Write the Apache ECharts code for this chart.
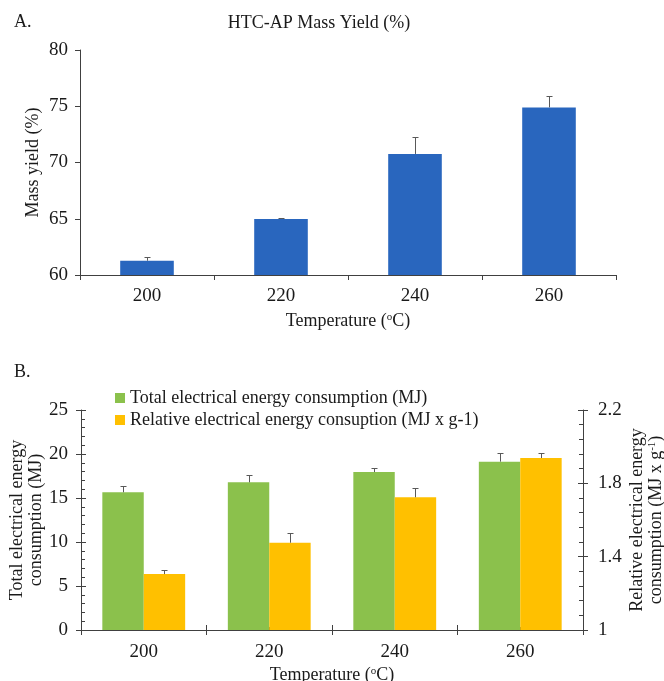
<!DOCTYPE html>
<html>
<head>
<meta charset="utf-8">
<script src="https://cdn.jsdelivr.net/npm/echarts@6/dist/echarts.min.js"></script>
<style>html,body{margin:0;padding:0;background:#fff}#c{width:664px;height:681px}</style>
</head>
<body>
<div id="c"></div>
<script>
const categories = ['200', '220', '240', '260'];
const massYield = [61.27, 64.98, 70.76, 74.9];
const massYieldErr = [0.33, 0.08, 1.48, 1.0];
const totalEnergy = [15.65, 16.78, 17.95, 19.13];
const totalEnergyErr = [0.75, 0.87, 0.49, 0.95];
const relEnergy = [1.305, 1.476, 1.724, 1.938];
const relEnergyErr = [0.02, 0.051, 0.05, 0.03];

const FONT = 'Liberation Serif';
const TXT = '#1a1a1a';
const AX = '#404040';
const sup = { fontSize: 11, verticalAlign: 'top', fontFamily: FONT, color: TXT, padding: [0, 0, 8, 0] };

function errRender(offsetFrac) {
  return function (params, api) {
    const i = api.value(0), v = api.value(1), e = api.value(2);
    const base = api.coord([i, v]);
    const top = api.coord([i, v + e]);
    const bw = api.size([1, 0])[0];
    const x = Math.round(base[0] + bw * offsetFrac) + 0.5;
    const yt = Math.round(top[1]) + 0.5;
    const style = { stroke: '#595959', lineWidth: 1 };
    return {
      type: 'group',
      children: [
        { type: 'line', shape: { x1: x, y1: base[1], x2: x, y2: yt }, style },
        { type: 'line', shape: { x1: x - 3, y1: yt, x2: x + 3, y2: yt }, style }
      ]
    };
  };
}

const labelStyle = { fontFamily: FONT, fontSize: 19, color: TXT };
const nameStyle = { fontFamily: FONT, fontSize: 18, color: TXT, lineHeight: 19, rich: { sup } };
const axisLine = { show: true, lineStyle: { color: AX, width: 1 } };

const chart = echarts.init(document.getElementById('c'));
chart.setOption({
  animation: false,
  backgroundColor: '#fff',
  textStyle: { fontFamily: FONT },
  graphic: [
    { type: 'text', left: 14, top: 13, style: { text: 'A.', font: '18px "Liberation Serif"', fill: TXT } },
    { type: 'text', left: 14, top: 363, style: { text: 'B.', font: '18px "Liberation Serif"', fill: TXT } },
    { type: 'text', x: 319, y: 23, style: { text: 'HTC-AP Mass Yield (%)', font: '18px "Liberation Serif"', fill: TXT, align: 'center', verticalAlign: 'middle' } }
  ],
  legend: {
    orient: 'vertical',
    left: 115,
    top: 389,
    padding: 0,
    itemWidth: 10,
    itemHeight: 10,
    itemGap: 4,
    icon: 'rect',
    textStyle: { fontFamily: FONT, fontSize: 18, color: TXT },
    data: ['Total electrical energy consumption (MJ)', 'Relative electrical energy consuption (MJ x g-1)']
  },
  grid: [
    { left: 80, top: 50, width: 536, height: 225, outerBoundsMode: 'none', containLabel: false },
    { left: 81, top: 410, width: 502, height: 220, outerBoundsMode: 'none', containLabel: false }
  ],
  xAxis: [
    {
      type: 'category', gridIndex: 0, position: 'bottom', data: categories,
      axisLine, axisTick: { show: true, length: 5, lineStyle: { color: AX } },
      axisLabel: Object.assign({ margin: 12 }, labelStyle),
      name: 'Temperature ({sup|o}C)', nameLocation: 'middle', nameGap: 37, nameMoveOverlap: false, nameTextStyle: nameStyle
    },
    {
      type: 'category', gridIndex: 1, position: 'bottom', data: categories,
      axisLine, axisTick: { show: true, length: 5, lineStyle: { color: AX } },
      axisLabel: Object.assign({ margin: 13 }, labelStyle),
      name: 'Temperature ({sup|o}C)', nameLocation: 'middle', nameGap: 36, nameMoveOverlap: false, nameTextStyle: nameStyle
    },
    {
      type: 'category', gridIndex: 1, position: 'bottom', data: categories,
      axisLine: { show: false }, axisLabel: { show: false },
      axisTick: { show: true, inside: true, length: 5, lineStyle: { color: AX } }
    },
    {
      type: 'category', gridIndex: 1, position: 'bottom', data: categories,
      axisLine: { show: false }, axisLabel: { show: false },
      axisTick: { show: true, inside: true, alignWithLabel: true, length: 3, lineStyle: { color: AX } }
    }
  ],
  yAxis: [
    {
      type: 'value', gridIndex: 0, position: 'left', min: 60, max: 80, interval: 5,
      axisLine, splitLine: { show: false },
      axisTick: { show: true, length: 5, lineStyle: { color: AX } },
      axisLabel: Object.assign({ margin: 12 }, labelStyle),
      name: 'Mass yield (%)', nameLocation: 'middle', nameRotate: 90, nameGap: 37, nameMoveOverlap: false, nameTextStyle: nameStyle
    },
    {
      type: 'value', gridIndex: 1, min: 0, max: 25, interval: 5, position: 'left',
      axisLine, splitLine: { show: false },
      axisTick: { show: true, inside: true, length: 5, lineStyle: { color: AX } },
      minorTick: { show: true, splitNumber: 5, length: 4, lineStyle: { color: AX } },
      axisLabel: Object.assign({ margin: 13 }, labelStyle),
      name: 'Total electrical energy\nconsumption (MJ)', nameLocation: 'middle', nameRotate: 90, nameGap: 35, nameMoveOverlap: false, nameTextStyle: nameStyle
    },
    {
      type: 'value', gridIndex: 1, min: 1, max: 2.2, interval: 0.4, position: 'right',
      axisLine, splitLine: { show: false },
      axisTick: { show: true, inside: true, length: 5, lineStyle: { color: AX } },
      minorTick: { show: true, splitNumber: 5, length: 4, lineStyle: { color: AX } },
      axisLabel: Object.assign({ margin: 15 }, labelStyle),
      name: 'Relative electrical energy\nconsumption (MJ x g{sup|-1})', nameLocation: 'middle', nameRotate: 90, nameGap: 45, nameMoveOverlap: false, nameTextStyle: nameStyle
    },
    {
      type: 'value', gridIndex: 1, min: 0, max: 25, interval: 5, position: 'left',
      axisLine: { show: false }, splitLine: { show: false }, axisLabel: { show: false },
      axisTick: { show: true, length: 5, lineStyle: { color: AX } }
    },
    {
      type: 'value', gridIndex: 1, min: 1, max: 2.2, interval: 0.4, position: 'right',
      axisLine: { show: false }, splitLine: { show: false }, axisLabel: { show: false },
      axisTick: { show: true, length: 5, lineStyle: { color: AX } }
    }
  ],
  series: [
    {
      type: 'bar', xAxisIndex: 0, yAxisIndex: 0, data: massYield,
      barWidth: '40%', itemStyle: { color: '#2966BE' }
    },
    {
      type: 'custom', xAxisIndex: 0, yAxisIndex: 0, z: 5,
      renderItem: errRender(0),
      encode: { x: 0, y: 1 },
      data: categories.map((c, i) => [i, massYield[i], massYieldErr[i]])
    },
    {
      name: 'Total electrical energy consumption (MJ)',
      type: 'bar', xAxisIndex: 1, yAxisIndex: 1, data: totalEnergy,
      barWidth: '33%', barGap: '0%', itemStyle: { color: '#8BC14C' }
    },
    {
      name: 'Relative electrical energy consuption (MJ x g-1)',
      type: 'bar', xAxisIndex: 1, yAxisIndex: 2, data: relEnergy,
      barWidth: '33%', barGap: '0%', itemStyle: { color: '#FFC000' }
    },
    {
      type: 'custom', xAxisIndex: 1, yAxisIndex: 1, z: 5,
      renderItem: errRender(-0.165),
      encode: { x: 0, y: 1 },
      data: categories.map((c, i) => [i, totalEnergy[i], totalEnergyErr[i]])
    },
    {
      type: 'custom', xAxisIndex: 1, yAxisIndex: 2, z: 5,
      renderItem: errRender(0.165),
      encode: { x: 0, y: 1 },
      data: categories.map((c, i) => [i, relEnergy[i], relEnergyErr[i]])
    }
  ]
});
</script>
</body>
</html>
